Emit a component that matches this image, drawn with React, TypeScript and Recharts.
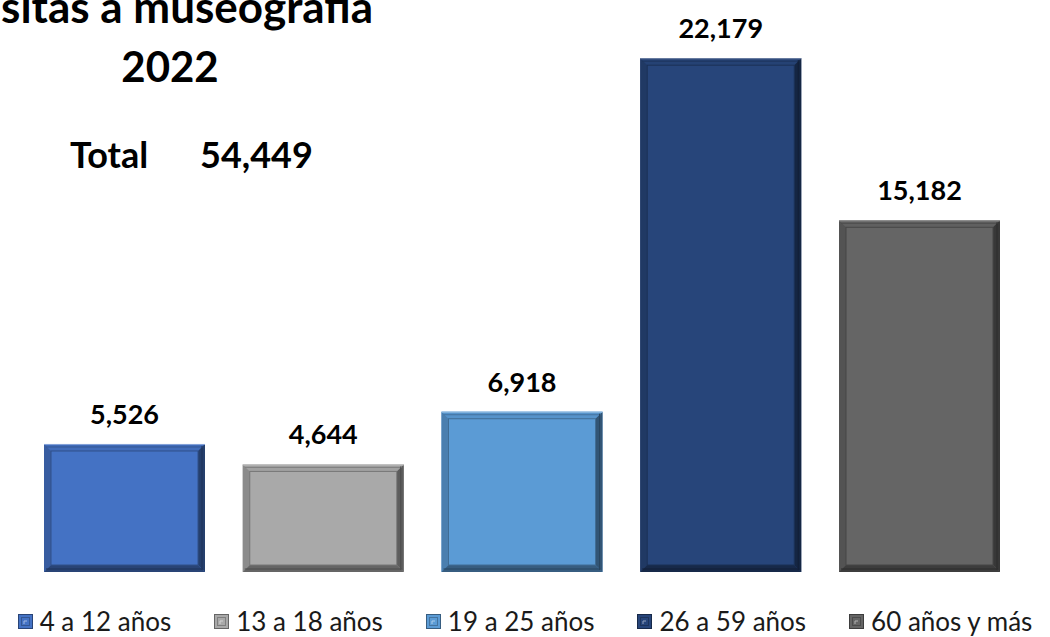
import React from 'react';
import { BarChart, Bar, XAxis, YAxis, LabelList, Legend } from 'recharts';

const titleLines = ['Visitas a museografía', '2022'];
const totalLabel = 'Total';
const totalValue = 54449;
const categories = ['4 a 12 años', '13 a 18 años', '19 a 25 años', '26 a 59 años', '60 años y más'];
const visitors = [5526, 4644, 6918, 22179, 15182];
const colors = ['#4472C4', '#A9A9A9', '#5B9BD5', '#27457A', '#656565'];

const keys = categories.map((_, i) => `s${i}`);
const row: Record<string, any> = { name: titleLines[1] };
keys.forEach((k, i) => { row[k] = visitors[i]; });
const data = [row];

const FONT = 'Lato, "Open Sans", sans-serif';

function shade(hex: string, f: number) {
  const n = parseInt(hex.slice(1), 16);
  const c = [(n >> 16) & 255, (n >> 8) & 255, n & 255].map((v) =>
    Math.max(0, Math.min(255, Math.round(f >= 1 ? v + (255 - v) * (f - 1) : v * f)))
  );
  return `rgb(${c[0]},${c[1]},${c[2]})`;
}

function BevelBar(props: any) {
  const { x, y, width: w, height: h, fill } = props;
  if (!w || !h || h <= 0) return null;
  const d = 7;
  return (
    <g>
      <rect x={x} y={y} width={w} height={h} fill={fill} />
      <polygon points={`${x},${y} ${x + w},${y} ${x + w - d},${y + d} ${x + d},${y + d}`} fill={shade(fill, 0.95)} />
      <polygon points={`${x},${y} ${x + d},${y + d} ${x + d},${y + h - d} ${x},${y + h}`} fill={shade(fill, 0.82)} />
      <polygon points={`${x + w},${y} ${x + w},${y + h} ${x + w - d},${y + h - d} ${x + w - d},${y + d}`} fill={shade(fill, 0.55)} />
      <polygon points={`${x},${y + h} ${x + w},${y + h} ${x + w - d},${y + h - d} ${x + d},${y + h - d}`} fill={shade(fill, 0.6)} />
      <rect x={x + d} y={y + d} width={w - 2 * d} height={h - 2 * d} fill={fill} stroke={shade(fill, 0.7)} strokeWidth={1} />
      <line x1={x} y1={y + 0.5} x2={x + w} y2={y + 0.5} stroke={shade(fill, 1.35)} strokeWidth={1} />
      <line x1={x + 2} y1={y + 3} x2={x + w - 2} y2={y + 3} stroke={shade(fill, 0.75)} strokeWidth={1} />
      <line x1={x + w - 3} y1={y + 2} x2={x + w - 3} y2={y + h - 2} stroke={shade(fill, 0.45)} strokeWidth={1} />
      <line x1={x + 2} y1={y + h - 3} x2={x + w - 2} y2={y + h - 3} stroke={shade(fill, 0.45)} strokeWidth={1} />
    </g>
  );
}

function LegendIcon({ color }: { color: string }) {
  return (
    <svg width={15} height={15} style={{ display: 'block' }}>
      <rect x={0} y={0} width={15} height={15} fill={color} />
      <rect x={0.5} y={0.5} width={14} height={14} fill="none" stroke={shade(color, 0.6)} />
      <rect x={3.5} y={3.5} width={8} height={8} fill={color} stroke={shade(color, 0.75)} />
      <path d="M6,10 L6,7 L9,7" stroke={shade(color, 1.5)} fill="none" />
    </svg>
  );
}

function LegendContent() {
  return (
    <div style={{ height: 65, paddingTop: 33, boxSizing: 'border-box', display: 'flex', justifyContent: 'center', gap: 43, fontFamily: FONT, fontSize: 26, color: '#1a1a1a', lineHeight: '36px', width: 1050 }}>
      {categories.map((name, i) => (
        <div key={name} style={{ display: 'flex', alignItems: 'center', gap: 7, whiteSpace: 'nowrap' }}>
          <LegendIcon color={colors[i]} />
          <span>{name}</span>
        </div>
      ))}
    </div>
  );
}

export default function App() {
  return (
    <div style={{ position: 'absolute', left: 0, top: 0, width: 1050, height: 637, background: '#fff', overflow: 'hidden' }}>
      <BarChart width={1050} height={637} data={data} margin={{ top: 16, right: 26, bottom: 0, left: 20 }} barSize={161} barGap={37.75}>
        <XAxis dataKey="name" hide />
        <YAxis hide domain={[0, 24000]} />
        <Legend verticalAlign="bottom" align="center" content={<LegendContent />} wrapperStyle={{ left: 0, width: 1050 }} />
        {keys.map((k, i) => (
          <Bar key={k} dataKey={k} name={categories[i]} fill={colors[i]} shape={<BevelBar />} isAnimationActive={false}>
            <LabelList
              dataKey={k}
              position="top"
              offset={20}
              formatter={(v: any) => Number(v).toLocaleString('en-US')}
              style={{ fontFamily: FONT, fontWeight: 700, fontSize: 27, fill: '#000' }}
            />
          </Bar>
        ))}
      </BarChart>
      <svg width={1050} height={637} style={{ position: 'absolute', left: 0, top: 0, pointerEvents: 'none' }}>
        <text x={373} y={23} textAnchor="end" fontFamily={FONT} fontWeight={700} fontSize={44} fill="#000">{titleLines[0]}</text>
        <text x={170} y={82} textAnchor="middle" fontFamily={FONT} fontWeight={700} fontSize={42} fill="#000">{titleLines[1]}</text>
        <text x={70} y={168} fontFamily={FONT} fontWeight={700} fontSize={36} fill="#000">{totalLabel}</text>
        <text x={200} y={168} fontFamily={FONT} fontWeight={700} fontSize={36} fill="#000">{totalValue.toLocaleString('en-US')}</text>
      </svg>
    </div>
  );
}
